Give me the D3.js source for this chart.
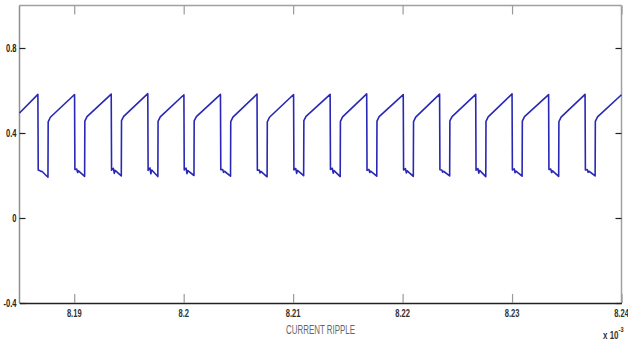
<!DOCTYPE html>
<html>
<head>
<meta charset="utf-8">
<script src="https://cdn.jsdelivr.net/npm/d3@7"></script>
<style>
  html, body { margin: 0; padding: 0; background: #fff; }
  svg { display: block; }
  .lbl { font-family: "Liberation Sans", Arial, sans-serif; }
</style>
</head>
<body>
<svg id="chart" width="628" height="342"></svg>
<script>
// Time axis in units of 1e-3 s, current in A.
const timeMs = [
  8.18500,
  8.18668, 8.18671, 8.18688, 8.18696, 8.18704, 8.18760, 8.18762, 8.18782,
  8.19003, 8.19006, 8.19023, 8.19031, 8.19039, 8.19095, 8.19097, 8.19117,
  8.19338, 8.19341, 8.19358, 8.19366, 8.19374, 8.19430, 8.19432, 8.19452,
  8.19672, 8.19675, 8.19692, 8.19700, 8.19708, 8.19764, 8.19766, 8.19786,
  8.20002, 8.20005, 8.20022, 8.20030, 8.20038, 8.20094, 8.20096, 8.20116,
  8.20336, 8.20339, 8.20356, 8.20364, 8.20372, 8.20428, 8.20430, 8.20450,
  8.20670, 8.20673, 8.20690, 8.20698, 8.20706, 8.20762, 8.20764, 8.20784,
  8.21004, 8.21007, 8.21024, 8.21032, 8.21040, 8.21096, 8.21098, 8.21118,
  8.21338, 8.21341, 8.21358, 8.21366, 8.21374, 8.21430, 8.21432, 8.21452,
  8.21672, 8.21675, 8.21692, 8.21700, 8.21708, 8.21764, 8.21766, 8.21786,
  8.22006, 8.22009, 8.22026, 8.22034, 8.22042, 8.22098, 8.22100, 8.22120,
  8.22338, 8.22341, 8.22358, 8.22366, 8.22374, 8.22430, 8.22432, 8.22452,
  8.22668, 8.22671, 8.22688, 8.22696, 8.22704, 8.22760, 8.22762, 8.22782,
  8.23000, 8.23003, 8.23020, 8.23028, 8.23036, 8.23092, 8.23094, 8.23114,
  8.23334, 8.23337, 8.23354, 8.23362, 8.23370, 8.23426, 8.23428, 8.23448,
  8.23667, 8.23670, 8.23687, 8.23695, 8.23703, 8.23759, 8.23761, 8.23781,
  8.24000
];

const currentA = [
  0.494,
  0.582, 0.226, 0.222, 0.219, 0.220, 0.192, 0.452, 0.474,
  0.581, 0.228, 0.230, 0.214, 0.222, 0.196, 0.456, 0.477,
  0.583, 0.225, 0.234, 0.210, 0.224, 0.198, 0.458, 0.478,
  0.585, 0.224, 0.236, 0.208, 0.226, 0.195, 0.455, 0.476,
  0.580, 0.226, 0.235, 0.209, 0.223, 0.200, 0.457, 0.477,
  0.582, 0.227, 0.228, 0.215, 0.220, 0.197, 0.454, 0.475,
  0.583, 0.225, 0.226, 0.212, 0.219, 0.194, 0.452, 0.474,
  0.581, 0.226, 0.233, 0.210, 0.224, 0.199, 0.458, 0.478,
  0.582, 0.228, 0.234, 0.211, 0.223, 0.195, 0.455, 0.476,
  0.584, 0.224, 0.229, 0.214, 0.221, 0.197, 0.456, 0.477,
  0.581, 0.226, 0.232, 0.212, 0.222, 0.196, 0.454, 0.475,
  0.583, 0.227, 0.226, 0.216, 0.220, 0.198, 0.457, 0.477,
  0.582, 0.225, 0.233, 0.211, 0.224, 0.195, 0.455, 0.476,
  0.584, 0.226, 0.231, 0.213, 0.221, 0.197, 0.456, 0.477,
  0.581, 0.228, 0.230, 0.214, 0.222, 0.196, 0.453, 0.475,
  0.582, 0.226, 0.228, 0.215, 0.220, 0.198, 0.455, 0.476,
  0.580
];

const xTicks = [8.19, 8.20, 8.21, 8.22, 8.23, 8.24];
const xTickLabels = ["8.19", "8.2", "8.21", "8.22", "8.23", "8.24"];
const yTicks = [-0.4, 0, 0.4, 0.8];
const yTickLabels = ["-0.4", "0", "0.4", "0.8"];
const xDomain = [8.185, 8.24];
const yDomain = [-0.4, 1.0];
const xTitle = "CURRENT RIPPLE";

const svg = d3.select("#chart");
const plot = { left: 19.5, right: 621.5, top: 5.5, bottom: 303 };

const x = d3.scaleLinear().domain(xDomain).range([plot.left, plot.right]);
const y = d3.scaleLinear().domain(yDomain).range([plot.bottom, plot.top]);

// Frame
svg.append("line").attr("x1", plot.left).attr("x2", plot.right).attr("y1", plot.top).attr("y2", plot.top)
  .attr("stroke", "#a0a0a0").attr("stroke-width", 1.5);
svg.append("line").attr("x1", plot.right).attr("x2", plot.right).attr("y1", plot.top).attr("y2", plot.bottom)
  .attr("stroke", "#a0a0a0").attr("stroke-width", 1.5);
svg.append("line").attr("x1", plot.left).attr("x2", plot.left).attr("y1", plot.top).attr("y2", plot.bottom)
  .attr("stroke", "#909090").attr("stroke-width", 1.5);

// Bottom axis with inward ticks, mirrored along the top edge
const xAxis = d3.axisBottom(x).tickValues(xTicks).tickFormat("").tickSizeInner(-9).tickSizeOuter(0);
const gx = svg.append("g").attr("transform", `translate(0,${plot.bottom})`).call(xAxis);
gx.select(".domain").attr("stroke", "#222").attr("stroke-width", 1.5);
gx.selectAll(".tick line").attr("stroke", "#9a9a9a").attr("stroke-width", 1.2);

const xTop = d3.axisTop(x).tickValues(xTicks).tickFormat("").tickSizeInner(-9).tickSizeOuter(0);
const gxt = svg.append("g").attr("transform", `translate(0,${plot.top})`).call(xTop);
gxt.select(".domain").remove();
gxt.selectAll(".tick line").attr("stroke", "#9a9a9a").attr("stroke-width", 1.2);

// Condensed tick labels (narrow glyphs via horizontal scaling)
svg.append("g").selectAll("text").data(xTicks).join("text")
  .attr("class", "lbl")
  .attr("transform", d => `translate(${x(d)},317) scale(0.72,1)`)
  .attr("text-anchor", "middle").attr("font-size", 10.5).attr("font-weight", "bold").attr("fill", "#333")
  .text((d, i) => xTickLabels[i]);

// Left axis with inward ticks, mirrored along the right edge
const yAxis = d3.axisLeft(y).tickValues(yTicks).tickFormat("").tickSizeInner(-6).tickSizeOuter(0);
const gy = svg.append("g").attr("transform", `translate(${plot.left},0)`).call(yAxis);
gy.select(".domain").remove();
gy.selectAll(".tick line").attr("stroke", "#222").attr("stroke-width", 1.2);

svg.append("g").selectAll("text").data(yTicks).join("text")
  .attr("class", "lbl")
  .attr("transform", d => `translate(16.5,${y(d) + 3.8}) scale(0.72,1)`)
  .attr("text-anchor", "end").attr("font-size", 10.5).attr("font-weight", "bold").attr("fill", "#222")
  .text((d, i) => yTickLabels[i]);

const yRight = d3.axisRight(y).tickValues(yTicks).tickFormat("").tickSizeInner(-6).tickSizeOuter(0);
const gyr = svg.append("g").attr("transform", `translate(${plot.right},0)`).call(yRight);
gyr.select(".domain").remove();
gyr.selectAll(".tick line").attr("stroke", "#222").attr("stroke-width", 1.2);

// Waveform
const points = timeMs.map((t, i) => [t, currentA[i]]);
const line = d3.line().x(d => x(d[0])).y(d => y(d[1]));
svg.append("path").datum(points)
  .attr("d", line)
  .attr("fill", "none")
  .attr("stroke", "#2828b4")
  .attr("stroke-width", 1.6)
  .attr("stroke-linejoin", "round");

// Axis title and exponent
svg.append("text").attr("class", "lbl")
  .attr("transform", `translate(${(plot.left + plot.right) / 2},334) scale(0.66,1)`)
  .attr("text-anchor", "middle").attr("font-size", 12).attr("fill", "#666")
  .text(xTitle);

const expo = svg.append("text").attr("class", "lbl")
  .attr("transform", "translate(603,339) scale(0.8,1)")
  .attr("font-size", 10).attr("font-weight", "bold").attr("fill", "#333");
expo.append("tspan").text("x 10");
expo.append("tspan").attr("dy", -7).attr("font-size", 7).text("-3");
</script>
</body>
</html>
